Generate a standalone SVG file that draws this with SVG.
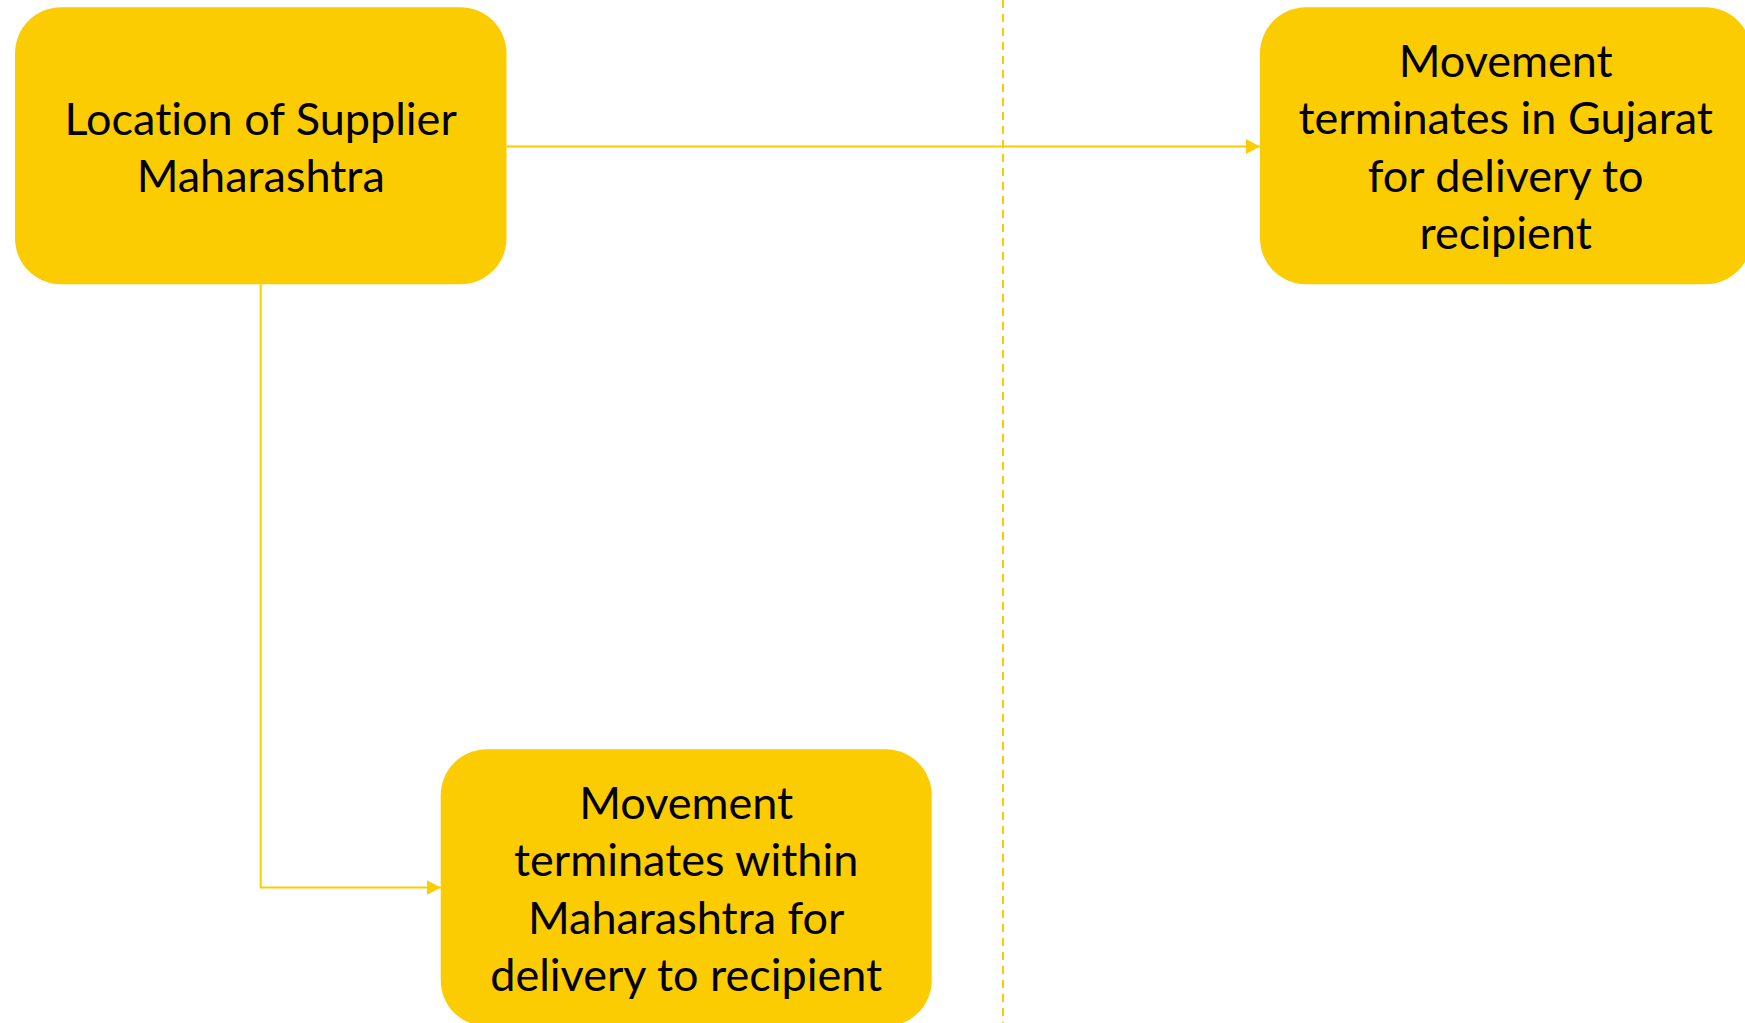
<svg xmlns="http://www.w3.org/2000/svg" width="1745" height="1023" viewBox="0 0 1745 1023">
  <style>
    .box { fill: #FCCC02; }
    .label { font-family: Lato, "Open Sans", "Liberation Sans", sans-serif; font-size: 45px; fill: #000; text-anchor: middle; font-variant-ligatures: none; font-feature-settings: "liga" 0; }
    .link { fill: none; stroke: #FCCC02; stroke-width: 2; }
    .divider { fill: none; stroke: #FCCC02; stroke-width: 2; stroke-dasharray: 8 6; }
  </style>
  <defs>
    <marker id="arrow" markerUnits="userSpaceOnUse" markerWidth="16" markerHeight="16" refX="14" refY="7.5" orient="auto">
      <path d="M0,0 L14,7.5 L0,15 Z" fill="#FCCC02"/>
    </marker>
  </defs>
  <rect width="1745" height="1023" fill="#fff"/>

  <!-- vertical dashed divider between the two states -->
  <line class="divider" x1="1003" y1="0" x2="1003" y2="1023"/>

  <g id="connectors">
    <path class="link" d="M506.5,146.5 H1260" marker-end="url(#arrow)"/>
    <path class="link" d="M260.7,284.3 V887.5 H440.7" marker-end="url(#arrow)"/>
  </g>

  <g id="supplier">
    <rect class="box" x="15" y="7.3" width="491.5" height="277" rx="46"/>
    <text class="label" x="260.7" y="134.5">Location of Supplier</text>
    <text class="label" x="260.7" y="192">Maharashtra</text>
  </g>

  <g id="gujarat">
    <rect class="box" x="1260" y="7.3" width="491.5" height="277" rx="46"/>
    <text class="label" x="1505.7" y="76.5">Movement</text>
    <text class="label" x="1505.7" y="134">terminates in Gujarat</text>
    <text class="label" x="1505.7" y="191.6">for delivery to</text>
    <text class="label" x="1505.7" y="249.2">recipient</text>
  </g>

  <g id="maharashtra">
    <rect class="box" x="440.7" y="749.3" width="491" height="277" rx="46"/>
    <text class="label" x="686.2" y="818.6">Movement</text>
    <text class="label" x="686.2" y="876.2">terminates within</text>
    <text class="label" x="686.2" y="933.8">Maharashtra for</text>
    <text class="label" x="686.2" y="991.4">delivery to recipient</text>
  </g>
</svg>
